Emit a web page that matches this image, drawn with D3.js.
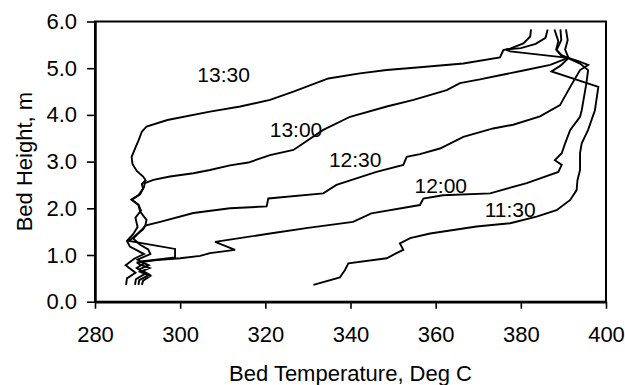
<!DOCTYPE html>
<html>
<head>
<meta charset="utf-8">
<script src="https://cdn.jsdelivr.net/npm/d3@7/dist/d3.min.js"></script>
<style>
  html, body { margin: 0; padding: 0; background: #fff; }
  svg { display: block; }
  text { font-family: "Liberation Sans", Arial, sans-serif; fill: #000; }
</style>
</head>
<body>
<svg id="chart" width="625" height="385"></svg>
<script>
// Bed temperature profiles: [temperature °C, height m] along the bed, one per sampling time.
const times = ["11:30", "12:00", "12:30", "13:00", "13:30"];

const p1130 = [[331.3,0.36],[337.5,0.52],[338.7,0.68],[339.5,0.82],[348.5,0.93],[350.8,1.04],[352.4,1.11],
  [351.6,1.25],[354,1.36],[358.7,1.46],[369.6,1.61],[377.5,1.68],[383.7,1.82],[388.4,1.96],[391.6,2.18],
  [393.1,2.39],[393.3,2.6],[393.9,2.82],[393.9,3.18],[394.3,3.39],[395.8,3.68],[397.4,4.1],[398.2,4.6],
  [387.2,4.93],[389.4,5.06],[391.2,5.22],[390.4,5.4],[391,5.6],[390.6,5.83]];

const p1200 = [[291,0.36],[291.3,0.45],[293,0.55],[290.6,0.64],[292.8,0.72],[290.5,0.8],[289.8,0.84],
  [294.5,0.89],[300,0.93],[304.7,0.98],[307,1.04],[312.9,1.11],[308.2,1.28],[321.1,1.46],[330,1.58],
  [340.6,1.71],[344.9,1.89],[356.3,2.07],[357.1,2.21],[361.7,2.28],[372.8,2.32],[381.4,2.54],[388.8,2.78],
  [389.6,2.93],[388,3.03],[389.6,3.18],[390.4,3.39],[391.6,3.68],[393.9,3.96],[394.3,4.1],[395.4,4.68],
  [395.8,4.96],[393.9,5.1],[389.6,5.28],[388.4,5.39],[389.5,5.6],[389.3,5.83]];

const p1230 = [[290.2,0.36],[290.4,0.46],[292.8,0.58],[290.5,0.7],[292.6,0.78],[290.8,0.86],[298.8,0.95],
  [298.8,1.13],[290.6,1.26],[288,1.3],[289.5,1.42],[291.3,1.55],[291.8,1.63],[295.3,1.71],[303.1,1.9],
  [311.7,2.0],[320.3,2.04],[320.7,2.21],[333.6,2.32],[336.7,2.5],[346.1,2.78],[352.4,2.93],[353.2,3.1],
  [356.3,3.16],[361,3.28],[366.5,3.53],[373.5,3.71],[378.2,3.79],[384.5,3.97],[389.2,4.21],[391.6,4.6],
  [393.9,4.96],[395.8,5.07],[393.5,5.15],[389.5,5.27],[388.3,5.4],[388.8,5.58],[387.9,5.83]];

const p1300 = [[289.4,0.36],[289.6,0.48],[291.8,0.6],[289.8,0.72],[291.5,0.82],[290,0.9],[293,1.02],
  [292.5,1.12],[290.6,1.22],[289,1.35],[290.5,1.5],[291.8,1.62],[292.1,1.75],[290.6,1.93],[290.2,2.07],
  [288.6,2.18],[290.2,2.28],[291.5,2.45],[291.7,2.54],[293.7,2.61],[297.6,2.68],[303.1,2.75],[307,2.82],
  [311.7,2.92],[316,2.98],[321.1,3.14],[326.6,3.25],[333.6,3.68],[339.9,3.96],[348.5,4.18],[354.8,4.32],
  [362.6,4.53],[365.7,4.68],[370.4,4.76],[375.1,4.85],[380.6,4.95],[386.9,5.07],[391.1,5.22],[377.5,5.36],
  [376.5,5.4],[380,5.43],[383.5,5.52],[385.8,5.65],[386.3,5.83]];

const p1330 = [[287.3,0.36],[287.5,0.5],[289.5,0.62],[287.2,0.78],[289.2,0.92],[291.5,1.02],[288.2,1.18],
  [287.5,1.3],[289,1.45],[290,1.6],[289.5,1.8],[290.8,1.95],[290.2,2.08],[288.6,2.19],[290.6,2.3],
  [291.3,2.42],[291,2.52],[291.9,2.6],[291.3,2.68],[289.8,2.8],[288.8,2.95],[288.6,3.1],[289.4,3.28],
  [290.2,3.45],[291,3.64],[292.1,3.75],[297,3.89],[307,4.07],[314.1,4.18],[321.1,4.32],[326.6,4.5],
  [334.8,4.78],[342.2,4.89],[348.5,4.96],[356.3,5.02],[366.5,5.1],[375.1,5.23],[375.9,5.39],[377.5,5.42],
  [380.6,5.53],[382.2,5.68],[382.4,5.83]];

const profiles = [p1130, p1200, p1230, p1300, p1330];

// Where each time label sits, in data units (temperature, height of text baseline)
const labelTemp = [377.5, 361.2, 341.1, 327.2, 310.2];
const labelHeight = [1.82, 2.32, 2.89, 3.53, 4.71];

const xTicks = [280, 300, 320, 340, 360, 380, 400];
const yTicks = [0, 1, 2, 3, 4, 5, 6];

const margin = { top: 21.5, right: 19, bottom: 83.3, left: 95 };
const W = 625, H = 385;
const iw = W - margin.left - margin.right;
const ih = H - margin.top - margin.bottom;

const svg = d3.select("#chart");
const g = svg.append("g").attr("transform", `translate(${margin.left},${margin.top})`);

const x = d3.scaleLinear().domain([280, 400]).range([0, iw]);
const y = d3.scaleLinear().domain([0, 6]).range([ih, 0]);

// frame (top and right edges)
g.append("rect")
  .attr("x", 0).attr("y", 0).attr("width", iw).attr("height", ih)
  .attr("fill", "none").attr("stroke", "#000").attr("stroke-width", 2);

const xAxis = g.append("g")
  .attr("transform", `translate(0,${ih})`)
  .call(d3.axisBottom(x).tickValues(xTicks).tickSize(7).tickSizeOuter(0).tickPadding(18)
    .tickFormat(d3.format("d")));

const yAxis = g.append("g")
  .call(d3.axisLeft(y).tickValues(yTicks).tickSize(8).tickSizeOuter(0).tickPadding(10)
    .tickFormat(d3.format(".1f")));

[xAxis, yAxis].forEach(a => {
  a.select(".domain").attr("stroke", "#000").attr("stroke-width", 2.5);
  a.selectAll(".tick line").attr("stroke", "#000").attr("stroke-width", 1.6);
  a.selectAll(".tick text").attr("font-size", 22)
    .attr("font-family", "'Liberation Sans', Arial, sans-serif").attr("fill", "#000");
});

const line = d3.line().x(d => x(d[0])).y(d => y(d[1]));

g.append("g").selectAll("path")
  .data(profiles)
  .join("path")
  .attr("d", line)
  .attr("fill", "none")
  .attr("stroke", "#000")
  .attr("stroke-width", 1.9)
  .attr("stroke-linejoin", "miter")
  .attr("stroke-miterlimit", 3);

g.append("g").selectAll("text")
  .data(times)
  .join("text")
  .attr("x", (d, i) => x(labelTemp[i]))
  .attr("y", (d, i) => y(labelHeight[i]))
  .attr("text-anchor", "middle")
  .attr("font-size", 21)
  .text(d => d);

// axis titles
svg.append("text")
  .attr("x", margin.left + iw / 2)
  .attr("y", 381)
  .attr("text-anchor", "middle")
  .attr("font-size", 22)
  .text("Bed Temperature, Deg C");

svg.append("text")
  .attr("transform", `translate(32,${margin.top + ih / 2}) rotate(-90)`)
  .attr("text-anchor", "middle")
  .attr("font-size", 22)
  .text("Bed Height, m");
</script>
</body>
</html>
